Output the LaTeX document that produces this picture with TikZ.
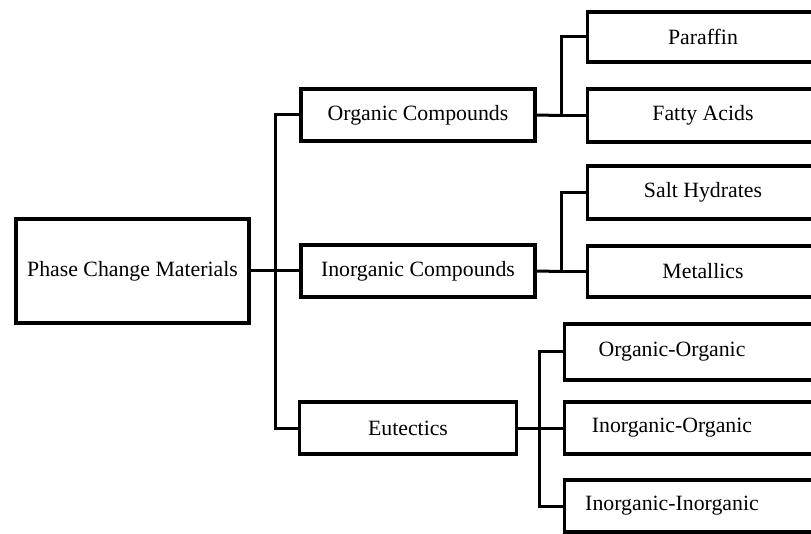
\documentclass[tikz,border=0pt]{standalone}
\usepackage{fontspec}
\setmainfont{Liberation Serif}
\begin{document}
\begin{tikzpicture}[x=1pt,y=-1pt,
  box/.style={draw, line width=3.2pt, rectangle, inner sep=0pt, font=\fontsize{21.8}{26}\selectfont},
  rbox/.style={box, anchor=west, minimum width=270pt, minimum height=52pt},
  lbl/.style={inner sep=0pt, font=\fontsize{21.8}{26}\selectfont},
  conn/.style={draw, line width=3pt}]
\useasboundingbox (0,0) rectangle (811,534);
\clip (0,0) rectangle (811,534);
% root and middle level
\node[box, minimum width=233pt, minimum height=104pt] (root) at (132.5,271) {Phase Change Materials};
\node[box, minimum width=234pt, minimum height=52pt] (org) at (418,115) {Organic Compounds};
\node[box, minimum width=234pt, minimum height=52pt] (inorg) at (418,271) {Inorganic Compounds};
\node[box, minimum width=217pt, minimum height=52pt] (eut) at (408,428) {Eutectics};
% leaves
\node[rbox, minimum height=50pt] (par) at (586,37) {};
\node[rbox, minimum height=53pt] (fat) at (586,115.5) {};
\node[rbox, minimum height=53pt] (salt) at (586,192.5) {};
\node[rbox, minimum height=51pt] (met) at (586,271.5) {};
\node[rbox, minimum height=56pt] (oo) at (563,352) {};
\node[rbox] (io) at (563,428) {};
\node[rbox] (ii) at (563,506) {};
\node[lbl] (tpar) at (703,37) {Paraffin};
\node[lbl] (tfat) at (703,115.5) {Fatty Acids};
\node[lbl] (tsalt) at (703,192.5) {Salt Hydrates};
\node[lbl] (tmet) at (703,271.5) {Metallics};
\node[lbl] (too) at (672,352) {Organic-Organic};
\node[lbl] (tio) at (672,428) {Inorganic-Organic};
\node[lbl] (tii) at (672,506) {Inorganic-Inorganic};
% junction coordinates
\coordinate (tr) at (275,271);
\coordinate (c1) at (561,115.5);
\coordinate (c2) at (561,271.5);
\coordinate (c3) at (539,428);
% connectors
\draw[conn] (root.east) -- (tr);
\draw[conn] (org.west) -| (tr) |- (eut.west);
\draw[conn] (tr) -- (inorg.west);
\draw[conn] (org.east) -- (c1);
\draw[conn] (par.west) -| (c1) -- (fat.west);
\draw[conn] (inorg.east) -- (c2);
\draw[conn] (salt.west) -| (c2) -- (met.west);
\draw[conn] (eut.east) -- (c3);
\draw[conn] (oo.west) -| (c3) |- (ii.west);
\draw[conn] (c3) -- (io.west);
\end{tikzpicture}
\end{document}
